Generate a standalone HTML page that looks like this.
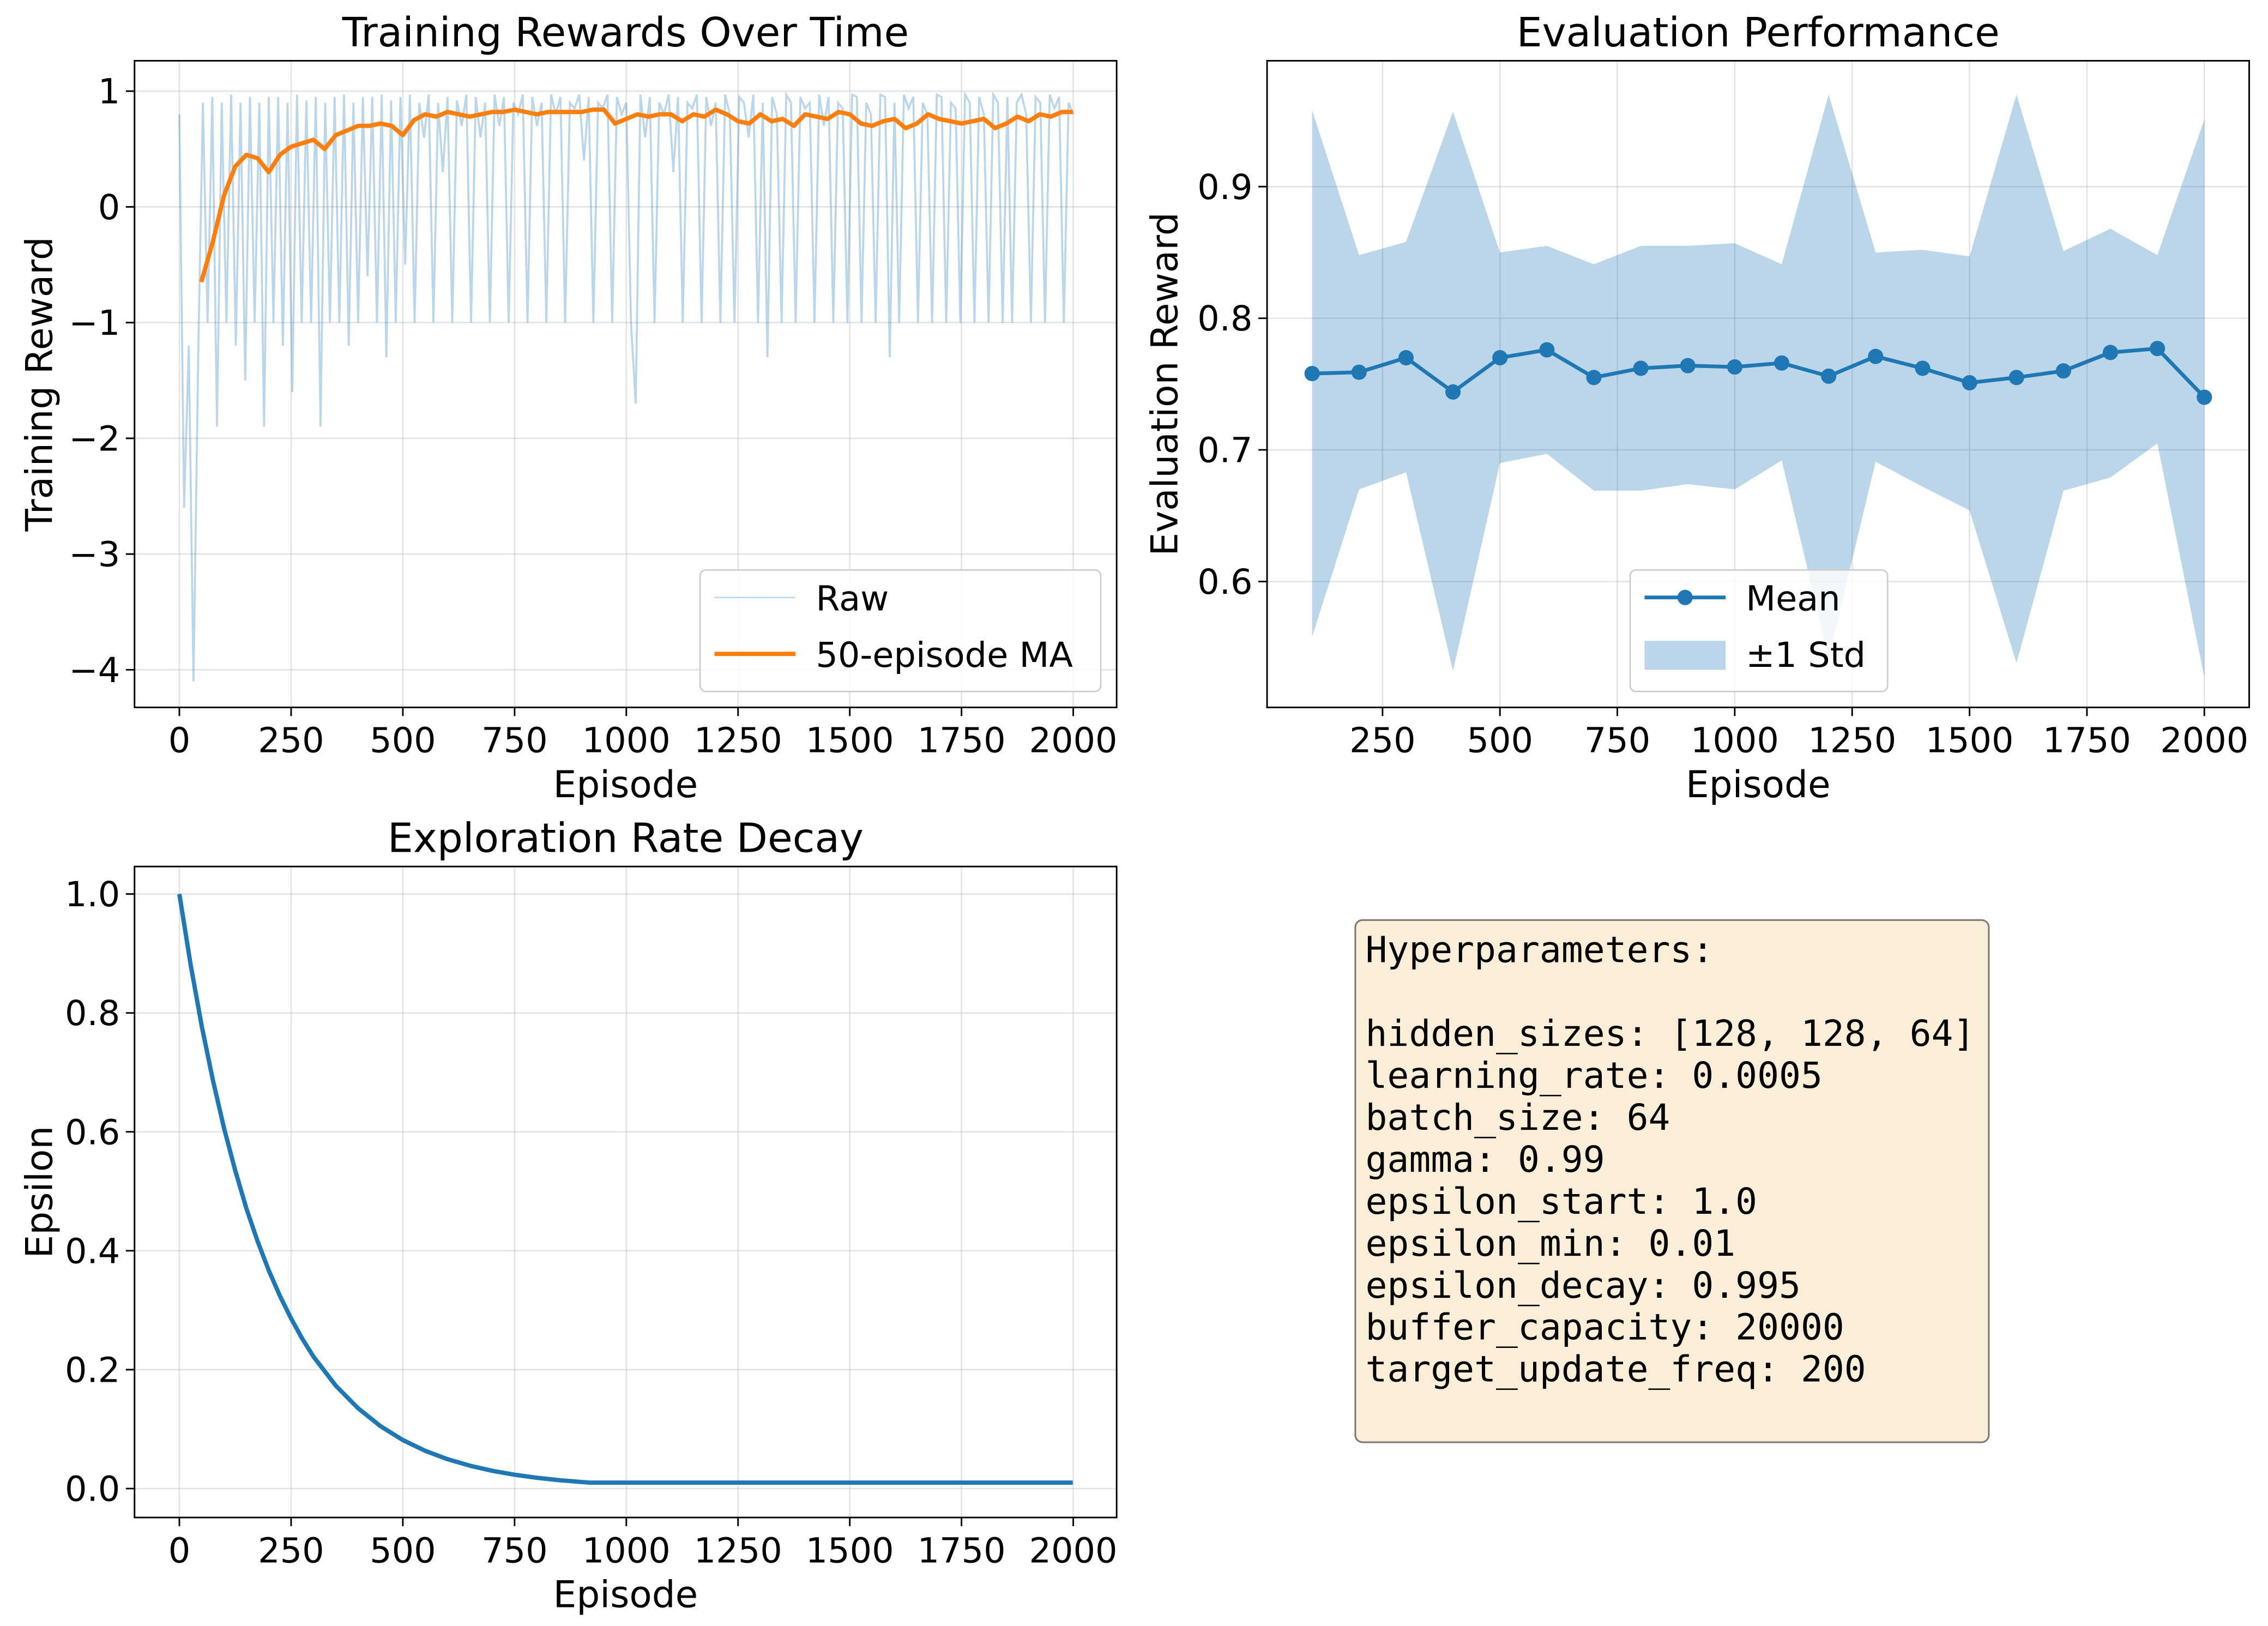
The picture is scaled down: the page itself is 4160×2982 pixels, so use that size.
<!DOCTYPE html>
<html><head><meta charset="utf-8"><style>
html,body{margin:0;padding:0;background:#fff}
svg{display:block}
text{font-family:"DejaVu Sans","Liberation Sans",sans-serif;fill:#000}
.mono{font-family:"DejaVu Sans Mono","Liberation Mono",monospace}
</style></head><body>
<svg id="fig" xmlns="http://www.w3.org/2000/svg" width="4160" height="2982" viewBox="0 0 1568 1124">
<rect width="1568" height="1124" fill="#fff"/>
<g id="p1"></g>
<g id="p2"></g>
<g id="p3"></g>
<g>
<rect x="937" y="636" width="438" height="361" rx="5" fill="#f5deb3" fill-opacity="0.5" stroke="#000" stroke-opacity="0.5" stroke-width="1.2"/>
<text class="mono" font-size="25">
<tspan x="944" y="665">Hyperparameters:</tspan>
<tspan x="944" y="723">hidden_sizes: [128, 128, 64]</tspan>
<tspan x="944" y="752">learning_rate: 0.0005</tspan>
<tspan x="944" y="781">batch_size: 64</tspan>
<tspan x="944" y="810">gamma: 0.99</tspan>
<tspan x="944" y="839">epsilon_start: 1.0</tspan>
<tspan x="944" y="868">epsilon_min: 0.01</tspan>
<tspan x="944" y="897">epsilon_decay: 0.995</tspan>
<tspan x="944" y="926">buffer_capacity: 20000</tspan>
<tspan x="944" y="955">target_update_freq: 200</tspan>
</text></g>
</svg>
<script>
// ---- data ----
const rawValues = [0.8,-2.6,-1.2,-4.1,-1.3,0.9,-1.0,0.95,-1.9,0.9,-1.0,0.97,-1.2,0.9,-1.5,0.95,-1.0,0.9,-1.9,0.95,
-1.0,0.95,-1.2,0.9,-1.6,0.97,-1.0,0.92,-1.0,0.95,-1.9,0.9,-1.0,0.95,-1.0,0.97,-1.2,0.9,-1.0,0.95,
-0.6,0.95,-1.0,0.97,-1.3,0.92,-1.0,0.95,-0.5,0.97,-1.0,0.9,0.6,0.97,-1.0,0.9,0.3,0.95,-1.0,0.92,
0.7,0.97,-1.0,0.95,0.6,0.9,-1.0,0.97,0.7,0.95,-1.0,0.9,0.8,0.97,-1.0,0.95,0.7,0.9,-1.0,0.97,
0.8,0.95,-1.0,0.9,0.85,0.97,0.4,0.95,-1.0,0.9,0.85,0.97,-1.0,0.95,0.8,0.9,-1.0,-1.7,0.97,0.6,
0.95,-1.0,0.9,0.8,0.97,0.3,0.95,-1.0,0.9,0.85,0.97,-1.0,0.95,0.7,0.9,-1.0,0.97,0.8,-1.0,0.95,
0.9,0.6,0.97,-1.0,0.9,-1.3,0.95,0.8,-1.0,0.97,0.9,-1.0,0.95,0.85,0.9,-1.0,0.97,0.7,0.95,-1.0,
0.9,0.85,-1.0,0.97,0.95,-1.0,0.9,0.8,-1.0,0.97,0.95,-1.3,0.9,-1.0,0.97,0.85,0.95,-1.0,0.9,0.8,
-1.0,0.97,0.95,-1.0,0.9,0.85,-1.0,0.97,0.9,-1.0,0.95,0.8,-1.0,0.97,0.9,-1.0,0.95,-1.0,0.9,0.97,
0.8,-1.0,0.95,0.9,-1.0,0.97,0.85,0.95,-1.0,0.9,0.8];
const maEpisodes = [49,75,100,125,150,175,200,225,250,275,300,325,350,375,400,425,450,475,500,525,550,575,600,625,650,675,700,725,750,775,800,825,850,875,900,925,950,975,1000,1025,1050,1075,1100,1125,1150,1175,1200,1225,1250,1275,1300,1325,1350,1375,1400,1425,1450,1475,1500,1525,1550,1575,1600,1625,1650,1675,1700,1725,1750,1775,1800,1825,1850,1875,1900,1925,1950,1975,1999];
const maValues = [-0.65,-0.3,0.1,0.35,0.45,0.42,0.3,0.45,0.52,0.55,0.58,0.5,0.62,0.66,0.7,0.7,0.72,0.7,0.62,0.75,0.8,0.78,0.82,0.8,0.78,0.8,0.82,0.82,0.84,0.82,0.8,0.82,0.82,0.82,0.82,0.84,0.84,0.72,0.76,0.8,0.78,0.8,0.8,0.74,0.8,0.78,0.84,0.8,0.74,0.72,0.8,0.74,0.76,0.7,0.8,0.78,0.76,0.82,0.8,0.72,0.7,0.74,0.76,0.68,0.72,0.8,0.76,0.74,0.72,0.74,0.76,0.68,0.72,0.78,0.74,0.8,0.78,0.82,0.82];
const evalEpisodes = [100,200,300,400,500,600,700,800,900,1000,1100,1200,1300,1400,1500,1600,1700,1800,1900,2000];
const evalMean = [0.758,0.759,0.770,0.744,0.770,0.776,0.755,0.762,0.764,0.763,0.766,0.756,0.771,0.762,0.751,0.755,0.760,0.774,0.777,0.740];
const evalUpper = [0.958,0.848,0.858,0.957,0.850,0.855,0.841,0.855,0.855,0.857,0.841,0.970,0.850,0.852,0.847,0.970,0.851,0.868,0.848,0.951];
const evalLower = [0.558,0.670,0.683,0.532,0.690,0.697,0.669,0.669,0.674,0.670,0.692,0.542,0.691,0.672,0.654,0.538,0.669,0.679,0.705,0.527];
const epsEpisodes = [0,25,50,75,100,125,150,175,200,225,250,275,300,350,400,450,500,550,600,650,700,750,800,850,900,919,1000,1500,1999];
const epsValues = [1,0.882,0.778,0.687,0.606,0.535,0.471,0.416,0.367,0.324,0.286,0.252,0.222,0.173,0.135,0.105,0.0816,0.0635,0.0494,0.0385,0.0299,0.0233,0.0181,0.0141,0.011,0.01,0.01,0.01,0.01];
const xTicks1 = [0,250,500,750,1000,1250,1500,1750,2000];
const yTicks1 = [1,0,-1,-2,-3,-4];
const xTicks2 = [250,500,750,1000,1250,1500,1750,2000];
const yTicks2 = [0.6,0.7,0.8,0.9];
const yTicks3 = [0.0,0.2,0.4,0.6,0.8,1.0];

const NS='http://www.w3.org/2000/svg';
function mk(parent,tag,attrs){const e=document.createElementNS(NS,tag);for(const k in attrs)e.setAttribute(k,attrs[k]);parent.appendChild(e);return e;}
function lin(d0,d1,r0,r1){return v=>r0+(v-d0)*(r1-r0)/(d1-d0);}
function axes(g,L,T,R,B,sx,sy,xt,yt,yfmt,title,xl,yl){
  xt.forEach(v=>{const x=sx(v);
    const gl=mk(g,'line',{x1:x,x2:x,y1:T,y2:B,stroke:'#b0b0b0','stroke-opacity':0.35,'stroke-width':1});
    
    mk(g,'line',{x1:x,x2:x,y1:B,y2:B+6,stroke:'#000','stroke-width':1.1});
    const t=mk(g,'text',{x:x,y:B+31,'text-anchor':'middle','font-size':24});t.textContent=v;
    });
  yt.forEach(v=>{const y=sy(v);
    const gl=mk(g,'line',{x1:L,x2:R,y1:y,y2:y,stroke:'#b0b0b0','stroke-opacity':0.35,'stroke-width':1});
    
    mk(g,'line',{x1:L-6,x2:L,y1:y,y2:y,stroke:'#000','stroke-width':1.1});
    const t=mk(g,'text',{x:L-10,y:y+8.5,'text-anchor':'end','font-size':24});t.textContent=yfmt(v);
    });
  const tt=mk(g,'text',{x:(L+R)/2,y:T-10,'text-anchor':'middle','font-size':28});tt.textContent=title;
  
  const xa=mk(g,'text',{x:(L+R)/2,y:B+62,'text-anchor':'middle','font-size':25.5});xa.textContent=xl;
  
  const ya=mk(g,'text',{x:0,y:0,'text-anchor':'middle','font-size':25.5,transform:`translate(${yl[1]},${(T+B)/2}) rotate(-90)`});ya.textContent=yl[0];
  
}
function frame(g,L,T,R,B){const f=mk(g,'rect',{x:L,y:T,width:R-L,height:B-T,fill:'none',stroke:'#000','stroke-width':1.1});
  }
function minus(v){return String(v).replace('-','\u2212');}

// ---- panel 1 ----
(function(){
 const g=document.getElementById('p1');const L=93,T=42,R=772,B=489;
 const sx=lin(0,2000,124,742), sy=lin(0,1,143,63);
 axes(g,L,T,R,B,sx,sy,xTicks1,yTicks1,minus,'Training Rewards Over Time','Episode',['Training Reward',36]);
 const step=2000/(rawValues.length-1);
 const raw=mk(g,'polyline',{points:rawValues.map((v,i)=>sx(i*step)+','+sy(v)).join(' '),fill:'none',stroke:'#1f77b4','stroke-opacity':0.3,'stroke-width':1.4});
 
 const ma=mk(g,'polyline',{points:maValues.map((v,i)=>sx(maEpisodes[i])+','+sy(v)).join(' '),fill:'none',stroke:'#ff7f0e','stroke-width':3,'stroke-linejoin':'round'});
 
 frame(g,L,T,R,B);
 const lg=mk(g,'g',{});
 mk(lg,'rect',{x:484,y:394,width:277,height:84,rx:4,fill:'#fff','fill-opacity':0.8,stroke:'#ccc'});
 mk(lg,'line',{x1:494,x2:550,y1:413,y2:413,stroke:'#1f77b4','stroke-opacity':0.3,'stroke-width':1});
 const t1=mk(lg,'text',{x:564,y:422,'font-size':24});t1.textContent='Raw';
 
 mk(lg,'line',{x1:494,x2:550,y1:452,y2:452,stroke:'#ff7f0e','stroke-width':3});
 const t2=mk(lg,'text',{x:564,y:461,'font-size':24});t2.textContent='50-episode MA';
 
})();

// ---- panel 2 ----
(function(){
 const g=document.getElementById('p2');const L=876,T=42,R=1555,B=489;
 const sx=lin(500,2000,1037,1524), sy=lin(0.9,0.6,129,402);
 axes(g,L,T,R,B,sx,sy,xTicks2,yTicks2,v=>v.toFixed(1),'Evaluation Performance','Episode',['Evaluation Reward',814]);
 const pts=evalEpisodes.map((e,i)=>sx(e)+','+sy(evalUpper[i])).concat(evalEpisodes.map((e,i)=>sx(e)+','+sy(evalLower[i])).reverse());
 const band=mk(g,'polygon',{points:pts.join(' '),fill:'#1f77b4','fill-opacity':0.3});
 
 const ml=mk(g,'polyline',{points:evalMean.map((v,i)=>sx(evalEpisodes[i])+','+sy(v)).join(' '),fill:'none',stroke:'#1f77b4','stroke-width':2.6});
 
 evalMean.forEach((v,i)=>{const c=mk(g,'circle',{cx:sx(evalEpisodes[i]),cy:sy(v),r:5.3,fill:'#1f77b4'});
   });
 frame(g,L,T,R,B);
 const lg=mk(g,'g',{});
 mk(lg,'rect',{x:1127,y:394,width:178,height:84,rx:4,fill:'#fff','fill-opacity':0.8,stroke:'#ccc'});
 mk(lg,'line',{x1:1137,x2:1193,y1:413,y2:413,stroke:'#1f77b4','stroke-width':2.6});
 mk(lg,'circle',{cx:1165,cy:413,r:5.3,fill:'#1f77b4'});
 const t1=mk(lg,'text',{x:1207,y:422,'font-size':24});t1.textContent='Mean';
 
 mk(lg,'rect',{x:1137,y:443,width:56,height:20,fill:'#1f77b4','fill-opacity':0.3});
 const t2=mk(lg,'text',{x:1207,y:461,'font-size':24});t2.textContent='\u00b11 Std';
 
})();

// ---- panel 3 ----
(function(){
 const g=document.getElementById('p3');const L=93,T=599,R=772,B=1049;
 const sx=lin(0,2000,124,742), sy=lin(0,1,1029,618);
 axes(g,L,T,R,B,sx,sy,xTicks1,yTicks3,v=>v.toFixed(1),'Exploration Rate Decay','Episode',['Epsilon',36]);
 const el=mk(g,'polyline',{points:epsValues.map((v,i)=>sx(epsEpisodes[i])+','+sy(v)).join(' '),fill:'none',stroke:'#1f77b4','stroke-width':3,'stroke-linejoin':'round'});
 
 frame(g,L,T,R,B);
})();
</script>
</body></html>
